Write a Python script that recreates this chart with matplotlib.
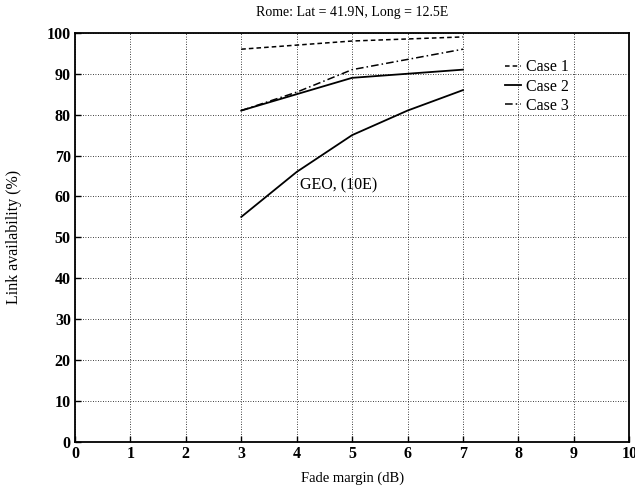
import matplotlib
matplotlib.use("Agg")
import matplotlib.pyplot as plt

plt.rcParams['font.family'] = ['Liberation Serif', 'DejaVu Serif']

# fade margin (dB)
margin = [3, 4, 5, 6, 7]
case1 = [96, 97, 98, 98.5, 99]
case2 = [81, 85, 89, 90, 91]
case3 = [81, 85.5, 91, 93.5, 96]
geo = [55, 66, 75, 81, 86]

fig = plt.figure(figsize=(6.35, 4.9), dpi=100)
ax = fig.add_axes([0.118, 0.098, 0.873, 0.835])

ax.plot(margin, case1, color='black', linestyle=(0, (3, 2)), linewidth=1.1, label='Case 1')
ax.plot(margin, case2, color='black', linestyle='-', linewidth=1.3, label='Case 2')
ax.plot(margin, case3, color='black', linestyle=(0, (5, 2, 1, 2)), linewidth=1.1, label='Case 3')
ax.plot(margin, geo, color='black', linestyle='-', linewidth=1.3)

ax.text(4.06, 62.8, 'GEO, (10E)', fontsize=11.5, va='center')

ax.set_xlim(0, 10)
ax.set_ylim(0, 100)
ax.set_xticks(range(0, 11))
ax.set_yticks(range(0, 101, 10))
ax.tick_params(direction='in', length=4, labelsize=11.5, width=1, pad=3)
for lab in ax.get_xticklabels() + ax.get_yticklabels():
    lab.set_fontweight('bold')
ax.grid(True, color='black', linestyle=(0, (1, 2)), linewidth=0.6)
for s in ax.spines.values():
    s.set_linewidth(1.3)

ax.set_title('Rome: Lat = 41.9N, Long = 12.5E', fontsize=10, pad=12)
ax.set_xlabel('Fade margin (dB)', fontsize=10.5)
ax.set_ylabel('Link availability (%)', fontsize=11.5)
ax.xaxis.set_label_coords(0.5, -0.073)
ax.yaxis.set_label_coords(-0.096, 0.5)

ax.legend(loc='upper left', bbox_to_anchor=(0.776, 0.935), frameon=False,
          handlelength=1.0, handletextpad=0.3, labelspacing=0.2, fontsize=11.5,
          borderpad=0, borderaxespad=0)

fig.savefig('out.png', dpi=100)
